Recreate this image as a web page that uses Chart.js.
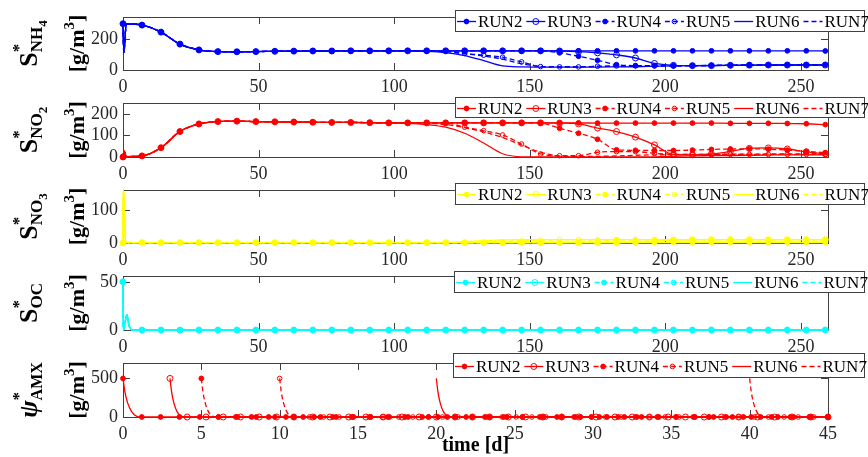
<!DOCTYPE html>
<html>
<head>
<meta charset="utf-8">
<script src="https://cdn.jsdelivr.net/npm/chart.js@4.4.1/dist/chart.umd.min.js"></script>
<style>
  html, body { margin: 0; padding: 0; background: #fff; }
  #wrap { position: relative; width: 868px; height: 457px; overflow: hidden; }
  canvas { position: absolute; left: 0; }
</style>
</head>
<body>
<div id="wrap">
  <canvas id="c1" width="868"></canvas>
  <canvas id="c2" width="868"></canvas>
  <canvas id="c3" width="868"></canvas>
  <canvas id="c4" width="868"></canvas>
  <canvas id="c5" width="868"></canvas>
</div>
<script>
// ---- data ----
const runNames = ['RUN2', 'RUN3', 'RUN4', 'RUN5', 'RUN6', 'RUN7'];

// weekly sample days (marker positions) for the first four panels
const days = [0, 7, 14, 21, 28, 35, 42, 49, 56, 63,
              70, 77, 84, 91, 98, 105, 112, 119, 126, 133,
              140, 147, 154, 161, 168, 175, 182, 189, 196, 203,
              210, 217, 224, 231, 238, 245, 252, 259];
const tickDays = [0, 50, 100, 150, 200, 250];

// S*NH4
const nh4StartT = [0.3, 1.2];
const nh4StartV = [110, 295];
const nh4Run2 = [297, 288, 243, 166, 129, 118, 117, 118, 120, 121,
                 122, 122, 123, 123, 123, 123, 123, 123, 123, 123,
                 123, 123, 123, 123, 123, 123, 123, 123, 123, 123,
                 123, 123, 123, 123, 123, 123, 123, 122];
const nh4Run3 = [297, 288, 243, 166, 129, 118, 117, 118, 120, 121,
                 122, 122, 123, 123, 123, 123, 123, 123, 123, 123,
                 123, 123, 123, 122, 118, 110, 97, 77, 42, 30,
                 28, 28, 30, 31, 32, 32, 32, 32];
const nh4Run4 = [297, 288, 243, 166, 129, 118, 117, 118, 120, 121,
                 122, 122, 123, 123, 123, 123, 123, 123, 123, 123,
                 123, 123, 123, 110, 88, 62, 34, 28, 27, 27,
                 28, 29, 30, 32, 33, 33, 33, 34];
const nh4Run5 = [297, 288, 243, 166, 129, 118, 117, 118, 120, 121,
                 122, 122, 123, 123, 123, 123, 123, 123, 106, 95,
                 82, 52, 22, 20, 20, 24, 26, 27, 27, 28,
                 28, 29, 30, 31, 32, 32, 32, 33];
const nh4Run6 = [297, 288, 243, 166, 129, 118, 117, 118, 120, 121,
                 122, 122, 123, 123, 123, 122, 120, 112, 92, 60,
                 26, 20, 19, 19, 19, 19, 20, 21, 24, 27,
                 28, 29, 30, 31, 32, 32, 32, 32];
const nh4Run7 = [297, 288, 243, 166, 129, 118, 117, 118, 120, 121,
                 122, 122, 123, 123, 123, 123, 122, 118, 104, 90,
                 70, 40, 24, 21, 21, 23, 25, 26, 27, 28,
                 28, 29, 30, 31, 32, 32, 32, 33];

// S*NO2
const no2StartT = [0.4, 1.2];
const no2StartV = [28, 2];
const no2Run2 = [0, 5, 43, 118, 153, 164, 166, 164, 163, 162,
                 161, 160, 160, 159, 158, 158, 158, 158, 158, 158,
                 158, 158, 158, 158, 158, 157, 157, 157, 157, 157,
                 157, 157, 156, 156, 156, 155, 154, 150];
const no2Run3 = [0, 5, 43, 118, 153, 164, 166, 164, 163, 162,
                 161, 160, 160, 159, 158, 158, 158, 158, 158, 158,
                 158, 158, 158, 157, 153, 134, 118, 92, 56, 12,
                 10, 14, 26, 40, 42, 37, 24, 15];
const no2Run4 = [0, 5, 43, 118, 153, 164, 166, 164, 163, 162,
                 161, 160, 160, 159, 158, 158, 158, 158, 158, 158,
                 158, 158, 157, 133, 110, 82, 33, 31, 30, 30,
                 32, 35, 37, 38, 36, 32, 26, 20];
const no2Run5 = [0, 5, 43, 118, 153, 164, 166, 164, 163, 162,
                 161, 160, 160, 159, 158, 158, 158, 158, 138, 122,
                 102, 60, 14, 6, 6, 22, 25, 25, 17, 13,
                 12, 12, 12, 12, 12, 12, 12, 12];
const no2Run6 = [0, 5, 43, 118, 153, 164, 166, 164, 163, 162,
                 161, 160, 160, 159, 158, 156, 150, 138, 110, 65,
                 15, 1, 0, 0, 0, 0, 0, 0, 1, 3,
                 5, 6, 7, 8, 9, 10, 10, 10];
const no2Run7 = [0, 5, 43, 118, 153, 164, 166, 164, 163, 162,
                 161, 160, 160, 159, 158, 158, 157, 150, 136, 116,
                 90, 55, 22, 4, 2, 3, 5, 8, 10, 11,
                 12, 12, 13, 13, 14, 14, 15, 15];

// S*NO3
const no3StartT = [0.15, 1];
const no3StartV = [160, 2];
const no3Run2 = [0, 1, 1, 1, 1, 1, 1, 1, 1, 1,
                 1, 1, 1, 1, 1, 1, 1, 1, 1, 1,
                 1, 1, 1, 1, 1, 1, 1, 1, 1, 1,
                 1, 1, 1, 1, 1, 1, 1, 1];
const no3Run3 = [0, 1, 1, 1, 1, 1, 1, 1, 1, 1,
                 1, 1, 1, 1, 1, 1, 1, 1, 1, 1,
                 1, 1, 1, 1, 1, 1, 1, 3, 6, 9,
                 10, 10, 10, 10, 10, 10, 10, 10];
const no3Run4 = [0, 1, 1, 1, 1, 1, 1, 1, 1, 1,
                 1, 1, 1, 1, 1, 1, 1, 1, 1, 1,
                 1, 1, 1, 1, 3, 6, 9, 10, 10, 10,
                 10, 10, 10, 10, 10, 10, 10, 10];
const no3Run5 = [0, 1, 1, 1, 1, 1, 1, 1, 1, 1,
                 1, 1, 1, 1, 1, 1, 1, 1, 1, 1,
                 3, 6, 9, 10, 10, 10, 10, 10, 10, 10,
                 10, 10, 10, 10, 10, 10, 10, 10];
const no3Run6 = [0, 1, 1, 1, 1, 1, 1, 1, 1, 1,
                 1, 1, 1, 1, 1, 1, 1, 2, 4, 7,
                 9, 10, 10, 10, 10, 10, 10, 10, 10, 10,
                 10, 10, 10, 10, 10, 10, 10, 10];
const no3Run7 = [0, 1, 1, 1, 1, 1, 1, 1, 1, 1,
                 1, 1, 1, 1, 1, 1, 1, 1, 1, 2,
                 4, 7, 9, 10, 10, 10, 10, 10, 10, 10,
                 10, 10, 10, 10, 10, 10, 10, 10];

// S*OC (all runs coincide)
const ocStartT = [0.1, 0.6, 1.4, 2.2, 3.5];
const ocStartV = [0, 5, 16, 5, 0];
const ocRun = [50, 0, 0, 0, 0, 0, 0, 0, 0, 0,
               0, 0, 0, 0, 0, 0, 0, 0, 0, 0,
               0, 0, 0, 0, 0, 0, 0, 0, 0, 0,
               0, 0, 0, 0, 0, 0, 0, 0];

// psi*AMX, 0..45 d, each run inoculated at a different day
const amxTicks = [0, 5, 10, 15, 20, 25, 30, 35, 40, 45];
const amxRun2T = [0, 1.2, 2.4, 3.6, 4.9, 6.1, 7.3, 8.5, 9.7, 10.9, 12.2, 13.4, 14.6,
                  15.8, 17.0, 18.2, 19.5, 20.7, 21.9, 23.1, 24.3, 25.5, 26.8, 28.0, 29.2,
                  30.4, 31.6, 32.8, 34.1, 35.3, 36.5, 37.7, 38.9, 40.1, 41.4, 42.6, 43.8, 45.0];
const amxRun3T = [3.0, 4.1, 5.3, 6.4, 7.5, 8.7, 9.8, 10.9, 12.1, 13.2, 14.4, 15.5, 16.6,
                  17.8, 18.9, 20.0, 21.2, 22.3, 23.4, 24.6, 25.7, 26.8, 28.0, 29.1, 30.2,
                  31.4, 32.5, 33.6, 34.8, 35.9, 37.1, 38.2, 39.3, 40.5, 41.6, 42.7, 43.9, 45.0];
const amxRun4T = [5.0, 6.1, 7.2, 8.2, 9.3, 10.4, 11.5, 12.6, 13.6, 14.7, 15.8, 16.9, 18.0,
                  19.1, 20.1, 21.2, 22.3, 23.4, 24.5, 25.5, 26.6, 27.7, 28.8, 29.9, 30.9,
                  32.0, 33.1, 34.2, 35.3, 36.4, 37.4, 38.5, 39.6, 40.7, 41.8, 42.8, 43.9, 45.0];
const amxRun5T = [10.0, 10.9, 11.9, 12.8, 13.8, 14.7, 15.7, 16.6, 17.6, 18.5, 19.5, 20.4, 21.4,
                  22.3, 23.2, 24.2, 25.1, 26.1, 27.0, 28.0, 28.9, 29.9, 30.8, 31.8, 32.7,
                  33.6, 34.6, 35.5, 36.5, 37.4, 38.4, 39.3, 40.3, 41.2, 42.2, 43.1, 44.1, 45.0];
const amxMarkV = [500, 0, 0, 0, 0, 0, 0, 0, 0, 0, 0, 0, 0,
                  0, 0, 0, 0, 0, 0, 0, 0, 0, 0, 0, 0,
                  0, 0, 0, 0, 0, 0, 0, 0, 0, 0, 0, 0, 0];
const amxDecayV = [330, 180, 70, 12];
const amxRun2DecayT = [0.12, 0.3, 0.55, 0.85];
const amxRun3DecayT = [3.1, 3.25, 3.45, 3.7];
const amxRun4DecayT = [5.1, 5.25, 5.45, 5.7];
const amxRun5DecayT = [10.1, 10.25, 10.45, 10.7];
const amxRun6T = [20, 20.1, 20.25, 20.45, 20.7, 21.2, 45];
const amxRun7T = [40, 40.1, 40.25, 40.45, 40.7, 41.2, 45];
const amxLateV = [500, 330, 180, 70, 12, 0, 0];

// ---- helpers ----
const AXIS = '#404040';
const SERIF = '"Liberation Serif", "Times New Roman", serif';

const runLook = [
  { dash: [], mark: 'dot', r: 2.4 },
  { dash: [], mark: 'ring', r: 3 },
  { dash: [5, 3], mark: 'dot', r: 2.4 },
  { dash: [5, 3], mark: 'ring', r: 2.3 },
  { dash: [], mark: null, r: 0 },
  { dash: [5, 3], mark: null, r: 0 }
];

// merge marked samples with unmarked in-between samples
function pts(xs, ys, ex, ey) {
  const a = xs.map((x, i) => ({ x: x, y: ys[i], m: true }));
  (ex || []).forEach((x, i) => a.push({ x: x, y: ey[i], m: false }));
  return a.sort((p, q) => p.x - q.x);
}

function makeDatasets(color, series) {
  return series.map((s, i) => {
    const look = runLook[i];
    return {
      label: runNames[i],
      data: s,
      borderColor: color,
      borderWidth: 1.3,
      borderDash: look.dash,
      pointRadius: c => (c.raw && c.raw.m && look.mark) ? look.r : 0,
      pointBackgroundColor: look.mark === 'dot' ? color : 'rgba(0,0,0,0)',
      pointBorderColor: color,
      pointBorderWidth: 1,
      cubicInterpolationMode: 'monotone',
      fill: false,
      clip: false,
      order: 6 - i
    };
  });
}

function drawMarker(ctx, look, color, x, y) {
  if (!look.mark) return;
  ctx.beginPath();
  ctx.setLineDash([]);
  ctx.arc(x, y, look.r, 0, Math.PI * 2);
  if (look.mark === 'dot') { ctx.fillStyle = color; ctx.fill(); }
  ctx.strokeStyle = color; ctx.lineWidth = 1; ctx.stroke();
}

// rotated rich text: segments {t, s, dy, adv, it}
function drawRich(ctx, segs, x, yMid) {
  let w = 0;
  segs.forEach(g => {
    ctx.font = (g.it ? 'italic ' : '') + 'bold ' + g.s + 'px ' + SERIF;
    g.w = ctx.measureText(g.t).width;
    if (g.adv !== false) w += g.w;
  });
  ctx.save();
  ctx.translate(x, yMid);
  ctx.rotate(-Math.PI / 2);
  ctx.fillStyle = '#000';
  ctx.textBaseline = 'alphabetic';
  let cx = -w / 2;
  segs.forEach(g => {
    ctx.font = (g.it ? 'italic ' : '') + 'bold ' + g.s + 'px ' + SERIF;
    ctx.fillText(g.t, cx, g.dy || 0);
    if (g.adv !== false) cx += g.w;
  });
  ctx.restore();
}

const panelPlugin = {
  id: 'panel',
  beforeDatasetsDraw(chart) {
    const { ctx, chartArea: a, scales } = chart;
    ctx.save();
    ctx.strokeStyle = AXIS;
    ctx.lineWidth = 1;
    ctx.strokeRect(a.left + 0.5, a.top + 0.5, a.right - a.left, a.bottom - a.top);
    ctx.beginPath();
    scales.x.ticks.forEach(t => {
      const px = Math.round(scales.x.getPixelForValue(t.value)) + 0.5;
      ctx.moveTo(px, a.bottom); ctx.lineTo(px, a.bottom - 7);
      ctx.moveTo(px, a.top); ctx.lineTo(px, a.top + 7);
    });
    scales.y.ticks.forEach(t => {
      const py = Math.round(scales.y.getPixelForValue(t.value)) + 0.5;
      ctx.moveTo(a.left, py); ctx.lineTo(a.left + 7, py);
      ctx.moveTo(a.right, py); ctx.lineTo(a.right - 7, py);
    });
    ctx.stroke();
    ctx.restore();
  },
  afterDraw(chart, args, opts) {
    const { ctx, chartArea: a } = chart;
    ctx.save();
    // legend box
    const left = opts.legendLeft, top = a.top + opts.legendDy, h = opts.legendH, right = 865;
    ctx.fillStyle = '#fff';
    ctx.fillRect(left, top, right - left, h);
    ctx.strokeStyle = AXIS;
    ctx.lineWidth = 1;
    ctx.setLineDash([]);
    ctx.strokeRect(left + 0.5, top + 0.5, right - left - 1, h - 1);
    const ym = Math.round(top + h / 2) + 0.5;
    runNames.forEach((name, i) => {
      const x0 = left + 2 + i * 69.3;
      const look = runLook[i];
      ctx.beginPath();
      ctx.setLineDash(look.dash);
      ctx.strokeStyle = opts.color;
      ctx.lineWidth = 1.3;
      ctx.moveTo(x0, ym); ctx.lineTo(x0 + 19, ym);
      ctx.stroke();
      drawMarker(ctx, look, opts.color, x0 + 9.5, ym);
      ctx.setLineDash([]);
      ctx.fillStyle = '#000';
      ctx.font = '17px ' + SERIF;
      ctx.textBaseline = 'middle';
      ctx.textAlign = 'left';
      ctx.fillText(name, x0 + 21, ym + 1);
    });
    // y axis title, two rotated lines
    const yMid = (a.top + a.bottom) / 2;
    drawRich(ctx, opts.title, 37, yMid);
    drawRich(ctx, [{ t: '[g/m', s: 22 }, { t: '3', s: 15, dy: -10 }, { t: ']', s: 22 }], 84, yMid);
    if (opts.xTitle) {
      ctx.font = 'bold 20px ' + SERIF;
      ctx.fillStyle = '#000';
      ctx.textAlign = 'center';
      ctx.textBaseline = 'alphabetic';
      ctx.fillText(opts.xTitle, (a.left + a.right) / 2, a.bottom + 34);
    }
    ctx.restore();
  }
};

function makePanel(id, p) {
  const cv = document.getElementById(id);
  const bottomH = p.bottomH || 28;
  cv.height = 17 + (p.plotBottom - p.plotTop) + bottomH;
  cv.style.top = (p.plotTop - 17) + 'px';
  const tickFont = { family: SERIF, size: 18 };
  return new Chart(cv.getContext('2d'), {
    type: 'line',
    data: { datasets: makeDatasets(p.color, p.series) },
    options: {
      responsive: false,
      animation: false,
      events: [],
      layout: { padding: { left: 0, right: 40, top: 17, bottom: 0 } },
      plugins: {
        legend: { display: false },
        tooltip: { enabled: false },
        panel: {
          color: p.color, title: p.title,
          legendLeft: p.legendLeft, legendDy: p.legendDy, legendH: p.legendH,
          xTitle: p.xTitle
        }
      },
      scales: {
        x: {
          type: 'linear', min: 0, max: p.xMax,
          afterBuildTicks: s => { s.ticks = p.xTicks.map(v => ({ value: v })); },
          afterFit: s => { s.height = bottomH; },
          grid: { display: false, drawTicks: false },
          border: { display: false },
          ticks: { autoSkip: false, maxRotation: 0, padding: 6, color: '#262626', font: tickFont }
        },
        y: {
          min: 0, max: p.yMax,
          afterBuildTicks: s => { s.ticks = p.yTicks.map(v => ({ value: v })); },
          afterFit: s => { s.width = 123; },
          grid: { display: false, drawTicks: false },
          border: { display: false },
          ticks: { padding: 5, color: '#262626', font: tickFont }
        }
      }
    },
    plugins: [panelPlugin]
  });
}

const sub = (t, s, dy, adv) => ({ t: t, s: s, dy: dy, adv: adv });

makePanel('c1', {
  plotTop: 17, plotBottom: 70, color: '#0000ff', xMax: 260, xTicks: tickDays,
  yMax: 340, yTicks: [0, 200], legendLeft: 455, legendDy: -7, legendH: 22,
  title: [sub('S', 26, 0), sub('*', 17, -13, false), sub('NH', 17, 5), sub('4', 13, 10)],
  series: [nh4Run2, nh4Run3, nh4Run4, nh4Run5, nh4Run6, nh4Run7].map(v => pts(days, v, nh4StartT, nh4StartV))
});
makePanel('c2', {
  plotTop: 103, plotBottom: 157, color: '#ff0000', xMax: 260, xTicks: tickDays,
  yMax: 250, yTicks: [0, 100, 200], legendLeft: 455, legendDy: -6, legendH: 21,
  title: [sub('S', 26, 0), sub('*', 17, -13, false), sub('NO', 17, 5), sub('2', 13, 10)],
  series: [no2Run2, no2Run3, no2Run4, no2Run5, no2Run6, no2Run7].map(v => pts(days, v, no2StartT, no2StartV))
});
makePanel('c3', {
  plotTop: 190, plotBottom: 243, color: '#ffff00', xMax: 260, xTicks: tickDays,
  yMax: 160, yTicks: [0, 100], legendLeft: 455, legendDy: -7, legendH: 22,
  title: [sub('S', 26, 0), sub('*', 17, -13, false), sub('NO', 17, 5), sub('3', 13, 10)],
  series: [no3Run2, no3Run3, no3Run4, no3Run5, no3Run6, no3Run7].map(v => pts(days, v, no3StartT, no3StartV))
});
makePanel('c4', {
  plotTop: 276, plotBottom: 330, color: '#00ffff', xMax: 260, xTicks: tickDays,
  yMax: 56, yTicks: [0, 50], legendLeft: 454, legendDy: -5, legendH: 22,
  title: [sub('S', 26, 0), sub('*', 17, -13, false), sub('OC', 17, 5)],
  series: [ocRun, ocRun, ocRun, ocRun, ocRun, ocRun].map(v => pts(days, v, ocStartT, ocStartV))
});
makePanel('c5', {
  plotTop: 363, plotBottom: 417, bottomH: 40, color: '#ff0000', xMax: 45, xTicks: amxTicks,
  yMax: 700, yTicks: [0, 500], legendLeft: 453, legendDy: -10, legendH: 25,
  xTitle: 'time [d]',
  title: [{ t: '\u03c8', s: 26, it: true }, sub('*', 17, -13, false), sub('AMX', 16, 5)],
  series: [
    pts(amxRun2T, amxMarkV, amxRun2DecayT, amxDecayV),
    pts(amxRun3T, amxMarkV, amxRun3DecayT, amxDecayV),
    pts(amxRun4T, amxMarkV, amxRun4DecayT, amxDecayV),
    pts(amxRun5T, amxMarkV, amxRun5DecayT, amxDecayV),
    pts([], [], amxRun6T, amxLateV),
    pts([], [], amxRun7T, amxLateV)
  ]
});
</script>
</body>
</html>
